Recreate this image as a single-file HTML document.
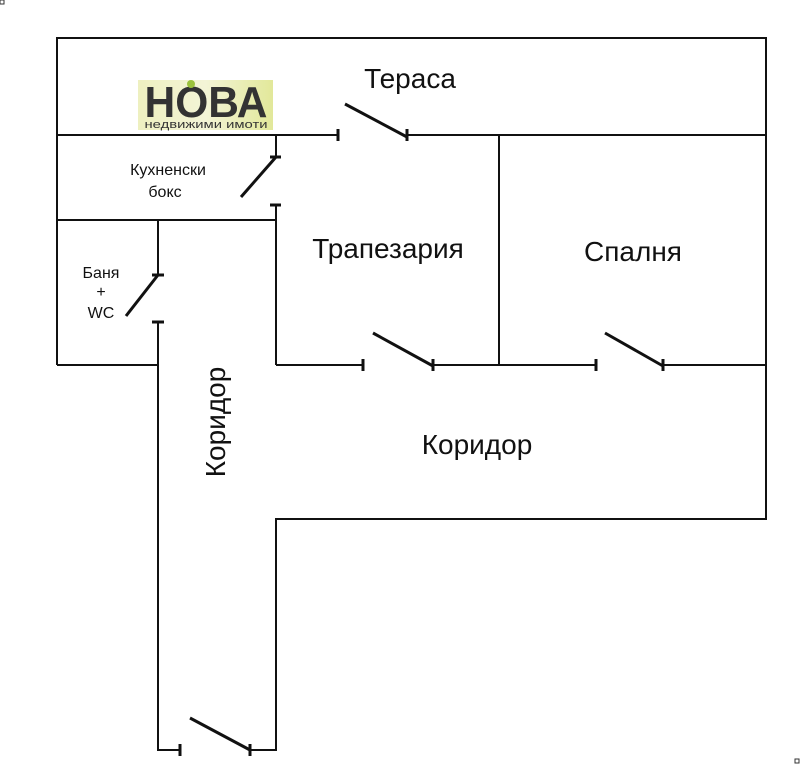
<!DOCTYPE html>
<html><head><meta charset="utf-8"><style>
html,body{margin:0;padding:0;background:#fff;}
svg{display:block;}
text{font-family:"Liberation Sans",sans-serif;fill:#111;}
</style></head><body>
<svg width="800" height="764" viewBox="0 0 800 764" xmlns="http://www.w3.org/2000/svg">
<defs><linearGradient id="g" x1="0" x2="1" y1="0" y2="0"><stop offset="0" stop-color="#eef0c0"/><stop offset="0.5" stop-color="#f3f4d6"/><stop offset="1" stop-color="#e2e89a"/></linearGradient></defs>
<rect x="0" y="0" width="4" height="4" fill="none" stroke="#333" stroke-width="1"/>
<rect x="795" y="759" width="4" height="4" fill="none" stroke="#333" stroke-width="1"/>
<g stroke="#111" stroke-width="2" fill="none">
<polyline points="57,365 57,38 766,38 766,519 276,519 276,750 250,750"/>
<polyline points="180,750 158,750 158,322"/>
<line x1="158" y1="220" x2="158" y2="275"/>
<line x1="57" y1="220" x2="276" y2="220"/>
<line x1="57" y1="365" x2="158" y2="365"/>
<line x1="57" y1="135" x2="338" y2="135"/>
<line x1="407" y1="135" x2="766" y2="135"/>
<line x1="276" y1="135" x2="276" y2="157"/>
<line x1="276" y1="205" x2="276" y2="365"/>
<line x1="276" y1="365" x2="363" y2="365"/>
<line x1="433" y1="365" x2="596" y2="365"/>
<line x1="663" y1="365" x2="766" y2="365"/>
<line x1="499" y1="135" x2="499" y2="365"/>
</g>
<g stroke="#111" stroke-width="3" fill="none">
<line x1="345" y1="104" x2="407" y2="137"/>
<line x1="276" y1="157" x2="241" y2="197"/>
<line x1="158" y1="275" x2="126" y2="316"/>
<line x1="373" y1="333" x2="433" y2="366"/>
<line x1="605" y1="333" x2="663" y2="366"/>
<line x1="190" y1="718" x2="250" y2="750"/>
<line x1="338" y1="129" x2="338" y2="141"/>
<line x1="407" y1="129" x2="407" y2="141"/>
<line x1="270" y1="157" x2="281" y2="157"/>
<line x1="270" y1="205" x2="281" y2="205"/>
<line x1="152" y1="275" x2="164" y2="275"/>
<line x1="152" y1="322" x2="164" y2="322"/>
<line x1="363" y1="359" x2="363" y2="371"/>
<line x1="433" y1="359" x2="433" y2="371"/>
<line x1="596" y1="359" x2="596" y2="371"/>
<line x1="663" y1="359" x2="663" y2="371"/>
<line x1="180" y1="744" x2="180" y2="756"/>
<line x1="250" y1="744" x2="250" y2="756"/>
</g>
<rect x="138" y="80" width="135" height="50" fill="url(#g)"/>
<text x="206" y="117" text-anchor="middle" font-size="44" font-weight="bold" style="fill:#333" textLength="123" lengthAdjust="spacingAndGlyphs">НОВА</text>
<circle cx="191" cy="84" r="4" fill="#9bc23c"/>
<text x="206" y="128" text-anchor="middle" font-size="11" style="fill:#333" textLength="123" lengthAdjust="spacingAndGlyphs">недвижими имоти</text>
<text x="410" y="88" text-anchor="middle" font-size="28">Тераса</text>
<text x="388" y="258" text-anchor="middle" font-size="28">Трапезария</text>
<text x="633" y="261" text-anchor="middle" font-size="28">Спалня</text>
<text x="477" y="454" text-anchor="middle" font-size="28">Коридор</text>
<text transform="translate(225,422) rotate(-90)" text-anchor="middle" font-size="28">Коридор</text>
<text x="168" y="175" text-anchor="middle" font-size="16">Кухненски</text>
<text x="165" y="197" text-anchor="middle" font-size="16">бокс</text>
<text x="101" y="278" text-anchor="middle" font-size="16">Баня</text>
<text x="101" y="297" text-anchor="middle" font-size="16">+</text>
<text x="101" y="318" text-anchor="middle" font-size="16">WC</text>
</svg>
</body></html>
